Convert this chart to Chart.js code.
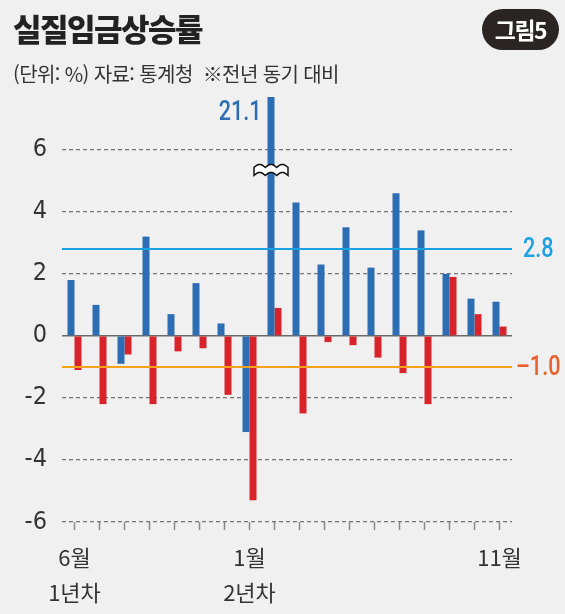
<!DOCTYPE html>
<html lang="ko">
<head>
<meta charset="utf-8">
<script src="https://cdn.jsdelivr.net/npm/chart.js@4.4.1/dist/chart.umd.min.js"></script>
<style>
html, body { margin: 0; padding: 0; background: #f0f0f0; }
#wrap { position: relative; width: 565px; height: 614px; overflow: hidden; }
#title { position: absolute; left: 13px; top: 12px; font: 900 31px/32px 'Noto Sans CJK KR'; color: #222; letter-spacing: -1.5px; }
#badge { position: absolute; left: 482px; top: 9px; width: 77px; height: 41px; border-radius: 21px; background: #2a2523; color: #fff; font: 700 23px/41px 'Noto Sans CJK KR'; text-align: center; letter-spacing: -1.5px; }
#sub { position: absolute; left: 13px; top: 62px; font: 400 20px/23px 'Noto Sans CJK KR'; color: #333; letter-spacing: -0.6px; }
canvas { position: absolute; left: 0; top: 0; }
</style>
</head>
<body>
<div id="wrap">
  <canvas id="chart" width="565" height="614"></canvas>
  <div id="title">실질임금상승률</div>
  <div id="badge">그림5</div>
  <div id="sub">(단위: %) 자료: 통계청 &nbsp;※전년 동기 대비</div>
</div>
<script>
const months = ['6월', '7월', '8월', '9월', '10월', '11월', '12월', '1월', '2월', '3월', '4월', '5월', '6월', '7월', '8월', '9월', '10월', '11월'];
const tickLabels = [['6월', '1년차'], '', '', '', '', '', '', ['1월', '2년차'], '', '', '', '', '', '', '', '', '', '11월'];
const blueValues = [1.8, 1.0, -0.9, 3.2, 0.7, 1.7, 0.4, -3.1, 21.1, 4.3, 2.3, 3.5, 2.2, 4.6, 3.4, 2.0, 1.2, 1.1];
const redValues = [-1.1, -2.2, -0.6, -2.2, -0.5, -0.4, -1.9, -5.3, 0.9, -2.5, -0.2, -0.3, -0.7, -1.2, -2.2, 1.9, 0.7, 0.3];
const yTicks = [-6, -4, -2, 0, 2, 4, 6];
const refValues = [2.8, -1.0];
const refLabels = ['2.8', '–1.0'];
const refColors = ['#1ba1e2', '#f7a21b'];
const refLabelColors = ['#1ba1e2', '#e8612c'];
const breakIndex = 8;   // 21.1 bar is cut off
const breakAt = 5.3;

const numFont = "'DejaVu Sans Condensed', 'Roboto', sans-serif";

// condensed number text for the hand-placed labels
function narrowText(ctx, text, x, y, align) {
  ctx.save();
  ctx.translate(x, y);
  ctx.scale(0.8, 1);
  ctx.textAlign = align;
  ctx.textBaseline = 'middle';
  ctx.font = '500 27px Roboto, sans-serif';
  ctx.fillText(text, 0, 0);
  ctx.restore();
}

const overlay = {
  id: 'overlay',
  beforeDatasetsDraw(chart) {
    const { ctx, chartArea } = chart;
    const y = chart.scales.y.getPixelForValue(0);
    ctx.save();
    ctx.strokeStyle = '#6a6a6a';
    ctx.lineWidth = 1.5;
    ctx.beginPath();
    ctx.moveTo(chartArea.left, y);
    ctx.lineTo(chartArea.right, y);
    ctx.stroke();
    ctx.restore();
  },
  afterDatasetsDraw(chart) {
    const { ctx, chartArea } = chart;
    const ys = chart.scales.y;
    ctx.save();
    // reference lines
    refValues.forEach((v, i) => {
      const y = ys.getPixelForValue(v);
      ctx.strokeStyle = refColors[i];
      ctx.lineWidth = 2;
      ctx.beginPath();
      ctx.moveTo(chartArea.left, y);
      ctx.lineTo(chartArea.right, y);
      ctx.stroke();
      ctx.fillStyle = refLabelColors[i];
      narrowText(ctx, refLabels[i], chartArea.right + (v < 0 ? 4 : 11), y + 1, 'left');
    });
    // break mark + value label on the tall bar
    const bar = chart.getDatasetMeta(0).data[breakIndex];
    const cx = bar.x, cy = ys.getPixelForValue(breakAt);
    const w = 34, amp = 3, half = 4;
    ctx.beginPath();
    const n = 30;
    for (let k = 0; k <= n; k++) {
      const t = k / n;
      const x = cx - w / 2 + t * w;
      const y = cy - half - amp * Math.abs(Math.sin(t * Math.PI * 3));
      k === 0 ? ctx.moveTo(x, y) : ctx.lineTo(x, y);
    }
    for (let k = n; k >= 0; k--) {
      const t = k / n;
      const x = cx - w / 2 + t * w;
      const y = cy + half - amp * Math.abs(Math.sin(t * Math.PI * 3));
      ctx.lineTo(x, y);
    }
    ctx.closePath();
    ctx.fillStyle = '#ffffff';
    ctx.fill();
    ctx.strokeStyle = '#111';
    ctx.lineWidth = 1.5;
    ctx.stroke();
    ctx.fillStyle = '#2d6db4';
    narrowText(ctx, String(blueValues[breakIndex]), bar.x - bar.width / 2 - 6, chartArea.top + 16, 'right');
    ctx.restore();
  }
};

new Chart(document.getElementById('chart'), {
  type: 'bar',
  data: {
    labels: months,
    datasets: [
      { data: blueValues, backgroundColor: '#2d6db4' },
      { data: redValues, backgroundColor: '#d8232a' }
    ]
  },
  options: {
    responsive: false,
    animation: false,
    devicePixelRatio: 1,
    barPercentage: 1,
    categoryPercentage: 0.56,
    layout: { padding: { top: 97, right: 53, left: 0, bottom: 0 } },
    plugins: { legend: { display: false }, tooltip: { enabled: false } },
    scales: {
      x: {
        offset: true,
        afterFit(scale) { scale.height = 92; },
        grid: { offset: false, drawOnChartArea: false, drawTicks: true, tickLength: 8, tickColor: '#8a8a8a', tickWidth: 1.5 },
        border: { display: false },
        ticks: {
          autoSkip: false, maxRotation: 0, padding: 10, color: '#333',
          font: { family: "'Noto Sans CJK KR'", size: 22, lineHeight: 1.6 },
          callback: (v, i) => tickLabels[i]
        }
      },
      y: {
        min: -6,
        max: 7.7,
        afterFit(scale) { scale.width = 62; },
        afterBuildTicks(scale) { scale.ticks = yTicks.map(v => ({ value: v })); },
        grid: { drawTicks: false, color: c => c.tick && c.tick.value === 0 ? 'rgba(0,0,0,0)' : '#767676', lineWidth: 1.2 },
        border: { display: false, dash: [4, 3] },
        ticks: { padding: 15, color: '#333', font: { family: numFont, size: 25 } }
      }
    }
  },
  plugins: [overlay]
});
</script>
</body>
</html>
